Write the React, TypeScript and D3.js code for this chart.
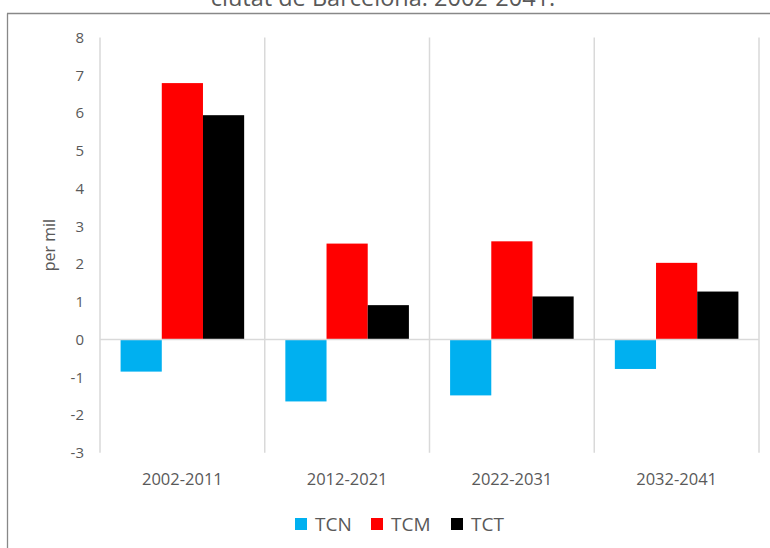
import React from "react";
import * as d3 from "d3";

const categories = ["2002-2011", "2012-2021", "2022-2031", "2032-2041"];
const seriesNames = ["TCN", "TCM", "TCT"];
const tcn = [-0.85, -1.64, -1.48, -0.78];
const tcm = [6.79, 2.54, 2.6, 2.03];
const tct = [5.94, 0.91, 1.14, 1.27];
const seriesColors = ["#00B0F0", "#FF0000", "#000000"];
const yTicks = [-3, -2, -1, 0, 1, 2, 3, 4, 5, 6, 7, 8];
const titleText = "ciutat de Barcelona. 2002-2041.";
const yLabel = "per mil";

const W = 770;
const H = 548;
const FONT = "'Open Sans', sans-serif";
const TEXT = "#595959";
const GRID = "#d9d9d9";

export default function App() {
  const values = [tcn, tcm, tct];
  const x = d3.scaleBand<string>().domain(categories).range([100, 759]).padding(0);
  const xs = d3
    .scaleBand<string>()
    .domain(seriesNames)
    .range([0, x.bandwidth()])
    .paddingInner(0)
    .paddingOuter(0.5);
  const y = d3.scaleLinear().domain([-3, 8]).range([452.8, 37.4]);
  const y0 = y(0);
  const edges = [...categories.map((c) => x(c) as number), x.range()[1]];

  const legendX = [295, 371, 451];

  return (
    <svg
      width={W}
      height={H}
      style={{ position: "absolute", left: 0, top: 0, background: "#fff" }}
      fontFamily={FONT}
    >
      <rect x={0} y={0} width={W} height={H} fill="#fff" />
      {/* title (cut off at the top, as in the reference) */}
      <text x={383} y={6} textAnchor="middle" fontSize={23.5} fill={TEXT}>
        {titleText}
      </text>
      {/* chart border */}
      <line x1={7.5} x2={7.5} y1={13.5} y2={H} stroke="#888" strokeWidth={1.3} />
      <line x1={7} x2={W} y1={13.5} y2={13.5} stroke="#888" strokeWidth={1.3} />

      {/* vertical gridlines */}
      {edges.map((ex, i) => (
        <line
          key={"g" + i}
          x1={ex}
          x2={ex}
          y1={y(8)}
          y2={y(-3)}
          stroke={GRID}
          strokeWidth={1.5}
        />
      ))}

      {/* bars */}
      {categories.map((c, ci) =>
        seriesNames.map((s, si) => {
          const v = values[si][ci];
          const bx = (x(c) as number) + (xs(s) as number);
          const top = Math.min(y(v), y0);
          const h = Math.abs(y(v) - y0);
          return (
            <rect
              key={c + s}
              x={bx}
              y={top}
              width={xs.bandwidth()}
              height={h}
              fill={seriesColors[si]}
            />
          );
        })
      )}

      {/* zero line */}
      <line x1={100} x2={759} y1={y0} y2={y0} stroke={GRID} strokeWidth={1.5} />

      {/* y ticks */}
      {yTicks.map((t) => (
        <text
          key={"t" + t}
          x={84}
          y={y(t)}
          dy="0.36em"
          textAnchor="end"
          fontSize={15}
          fill={TEXT}
        >
          {t}
        </text>
      ))}

      {/* y label */}
      <text
        transform={`translate(55, ${(y(8) + y(-3)) / 2}) rotate(-90)`}
        textAnchor="middle"
        fontSize={16}
        fill={TEXT}
      >
        {yLabel}
      </text>

      {/* x labels */}
      {categories.map((c) => (
        <text
          key={"x" + c}
          x={(x(c) as number) + x.bandwidth() / 2}
          y={485}
          textAnchor="middle"
          fontSize={16.5}
          fill={TEXT}
        >
          {c}
        </text>
      ))}

      {/* legend */}
      {seriesNames.map((s, i) => (
        <g key={"l" + s}>
          <rect x={legendX[i]} y={518} width={12} height={12} fill={seriesColors[i]} />
          <text x={legendX[i] + 20} y={531} fontSize={19} fill={TEXT}>
            {s}
          </text>
        </g>
      ))}
    </svg>
  );
}
